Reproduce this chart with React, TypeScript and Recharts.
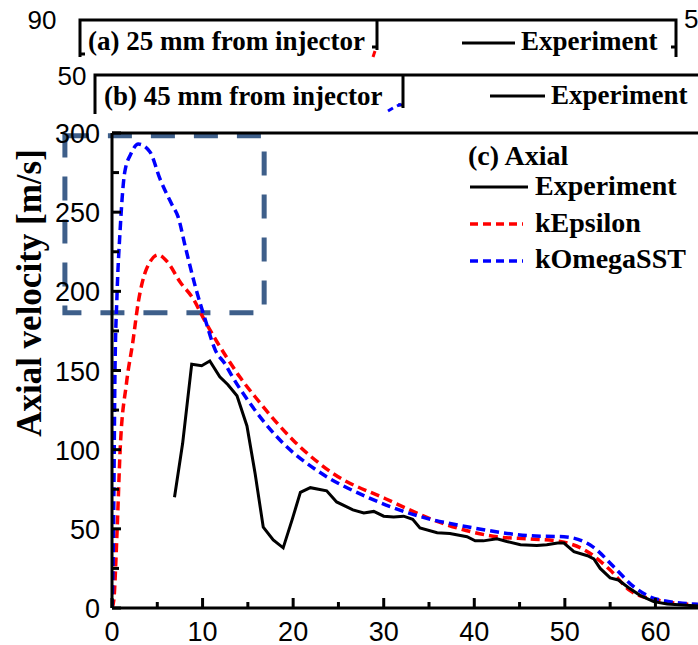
import React from 'react';
import { LineChart, Line, XAxis, YAxis, ReferenceLine, ReferenceArea } from 'recharts';

// Axial distance [mm] and axial velocity [m/s]
const expX = [6.9, 7.8, 8.8, 9.9, 10.8, 11.9, 12.8, 13.8, 14.9, 15.8, 16.7, 17.8, 18.9, 19.9, 20.8, 21.9, 23.7, 24.8, 26.6, 27.8, 28.9, 30, 31.1, 32.2, 33.2, 34, 35.9, 37.3, 39.2, 40.1, 41, 42.5, 43.6, 45.1, 46.9, 48, 49.2, 49.9, 51, 52.5, 53.2, 53.9, 55, 55.9, 57, 58.3, 59.8, 61.3, 64.7];
const expY = [70, 104, 154, 153, 156, 146, 141, 134, 115, 85, 51, 43, 38, 56, 73, 76, 74, 67, 62, 60, 61, 58, 57.5, 58, 56, 50.6, 47.5, 47, 45, 42.4, 42.4, 43.7, 42, 40, 39.4, 40, 41, 41, 35.6, 33, 31, 25, 19, 17.7, 13, 8, 4, 2.5, 1.3];

const keX = [0, 0.2, 0.55, 0.9, 1.6, 2.3, 2.9, 3.8, 5.1, 6.2, 7.5, 9, 10, 11.6, 12.7, 14.1, 16, 20, 24.4, 30.2, 37, 42.5, 46.2, 49.5, 52.5, 55, 57.2, 60.2, 64.7];
const keY = [0, 5, 47, 100, 142, 168, 193, 214, 223, 218, 206, 195, 184, 168, 158, 146, 132, 106, 85, 69, 52.5, 45, 43.6, 42, 35.6, 24, 11, 5, 2];

const kwX = [0, 0.15, 0.33, 0.55, 0.9, 1.4, 2.1, 2.9, 4.2, 5.3, 6.6, 7.3, 8.1, 9.2, 10.3, 11.4, 12.5, 13.3, 14.9, 18.9, 22.6, 28.2, 33.3, 39.9, 46.2, 49.9, 53.1, 55.4, 57.6, 60.2, 64.7];
const kwY = [0, 40, 150, 197, 239, 275, 287, 293, 288, 271, 255, 247, 228, 203, 182, 163, 154, 146, 132, 104, 87, 70, 59, 50.6, 45.6, 45, 38.6, 26, 13.5, 5.5, 2.3];

const xTicks = [0, 5, 10, 15, 20, 25, 30, 35, 40, 45, 50, 55, 60];
const yTicks = [0, 25, 50, 75, 100, 125, 150, 175, 200, 225, 250, 275, 300];

const seriesNames = ['Experiment', 'kEpsilon', 'kOmegaSST'];
const seriesColors = ['#000000', '#ff0000', '#0000ff'];

const toPts = (xs: number[], ys: number[]) => xs.map((x, i) => ({ x, y: ys[i] }));
const expData = toPts(expX, expY);
const keData = toPts(keX, keY);
const kwData = toPts(kwX, kwY);

const SANS = '"Liberation Sans", Arial, sans-serif';
const SERIF = '"Liberation Serif", "Times New Roman", serif';

const XTick = (props: any) => {
  const { x, y, payload } = props;
  const major = payload.value % 10 === 0;
  return (
    <g>
      <line x1={x} y1={y} x2={x} y2={y - (major ? 10 : 6)} stroke="#000" strokeWidth={3} />
      {major && (
        <text x={x} y={y + 33} textAnchor="middle" fontFamily={SANS} fontSize={27} fill="#000">
          {payload.value}
        </text>
      )}
    </g>
  );
};

const YTick = (props: any) => {
  const { x, y, payload } = props;
  const major = payload.value % 50 === 0;
  return (
    <g>
      <line x1={x} y1={y} x2={x + (major ? 9 : 7)} y2={y} stroke="#000" strokeWidth={3} />
      {major && (
        <text x={x - 12} y={y + 10} textAnchor="end" fontFamily={SANS} fontSize={27} fill="#000">
          {payload.value}
        </text>
      )}
    </g>
  );
};

export default function App() {
  return (
    <div style={{ position: 'absolute', left: 0, top: 0, width: 698, height: 645, background: '#fff', overflow: 'hidden' }}>
      <LineChart width={698} height={645} data={expData} margin={{ top: 133, right: 0, left: 0, bottom: 0 }}>
        <XAxis
          dataKey="x"
          type="number"
          domain={[0, 64.7]}
          allowDataOverflow
          ticks={xTicks}
          interval={0}
          tick={<XTick />}
          tickLine={false}
          tickSize={0}
          tickMargin={0}
          height={37}
          axisLine={{ stroke: '#000', strokeWidth: 3 }}
        />
        <YAxis
          type="number"
          domain={[0, 300]}
          allowDataOverflow
          ticks={yTicks}
          interval={0}
          tick={<YTick />}
          tickLine={false}
          tickSize={0}
          tickMargin={0}
          width={112}
          axisLine={{ stroke: '#000', strokeWidth: 3 }}
        />
        <ReferenceLine y={300} stroke="#000" strokeWidth={3} />
        <Line data={keData} dataKey="y" type="monotone" stroke={seriesColors[1]} strokeWidth={3.5} strokeDasharray="9 5" dot={false} isAnimationActive={false} name={seriesNames[1]} />
        <Line data={kwData} dataKey="y" type="monotone" stroke={seriesColors[2]} strokeWidth={3.5} strokeDasharray="9 5" dot={false} isAnimationActive={false} name={seriesNames[2]} />
        <Line data={expData} dataKey="y" type="linear" stroke={seriesColors[0]} strokeWidth={3} dot={false} isAnimationActive={false} name={seriesNames[0]} />
        <ReferenceArea x1={-5.2} x2={16.8} y1={186.4} y2={298.2} ifOverflow="visible" fill="none" stroke="#3e5f8a" strokeWidth={5} strokeDasharray="24 19" />
      </LineChart>
      <svg width={698} height={645} style={{ position: 'absolute', left: 0, top: 0, pointerEvents: 'none' }}>
        {/* panel (a) fragment */}
        <text x={42} y={29} textAnchor="middle" fontFamily={SANS} fontSize={26}>90</text>
        <path d="M80,57 V20 H676 V57" fill="none" stroke="#000" strokeWidth={3} />
        <path d="M377,20 V50 M372,47 H377" fill="none" stroke="#000" strokeWidth={3} />
        <path d="M671,47 H676 M80,54 H85" fill="none" stroke="#000" strokeWidth={3} />
        <path d="M375,51 L373,57" stroke="#ff0000" strokeWidth={3} />
        <text x={88} y={50} fontFamily={SERIF} fontWeight="bold" fontSize={27}>(a) 25 mm from injector</text>
        <line x1={462} y1={43} x2={515} y2={43} stroke="#000" strokeWidth={3} />
        <text x={521} y={50} fontFamily={SERIF} fontWeight="bold" fontSize={27}>Experiment</text>
        <text x={684} y={28} fontFamily={SANS} fontSize={26}>5</text>
        <rect x={0} y={58} width={698} height={60} fill="#fff" />
        {/* panel (b) fragment */}
        <text x={72} y={85} textAnchor="middle" fontFamily={SANS} fontSize={26}>50</text>
        <path d="M95,114 V75 H698" fill="none" stroke="#000" strokeWidth={3} />
        <path d="M403,75 V108 M398,105 H403" fill="none" stroke="#000" strokeWidth={3} />
        <path d="M388,111 L393,108 M397,106 L401,104" stroke="#0000ff" strokeWidth={3} />
        <text x={104} y={105} fontFamily={SERIF} fontWeight="bold" fontSize={27}>(b) 45 mm from injector</text>
        <line x1={490} y1={96} x2={545} y2={96} stroke="#000" strokeWidth={3} />
        <text x={551} y={104} fontFamily={SERIF} fontWeight="bold" fontSize={27}>Experiment</text>
        {/* y-axis title */}
        <text transform="translate(41,293) rotate(-90)" textAnchor="middle" fontFamily={SERIF} fontWeight="bold" fontSize={35}>Axial velocity [m/s]</text>
        {/* legend (c) */}
        <text x={468} y={165} fontFamily={SERIF} fontWeight="bold" fontSize={28}>(c) Axial</text>
        <line x1={470} y1={187} x2={528} y2={187} stroke={seriesColors[0]} strokeWidth={3} />
        <text x={535} y={195} fontFamily={SERIF} fontWeight="bold" fontSize={28}>{seriesNames[0]}</text>
        <line x1={470} y1={224} x2={523} y2={224} stroke={seriesColors[1]} strokeWidth={3.5} strokeDasharray="8 5" />
        <text x={535} y={232} fontFamily={SERIF} fontWeight="bold" fontSize={28}>{seriesNames[1]}</text>
        <line x1={470} y1={261} x2={523} y2={261} stroke={seriesColors[2]} strokeWidth={3.5} strokeDasharray="8 5" />
        <text x={535} y={268} fontFamily={SERIF} fontWeight="bold" fontSize={28}>{seriesNames[2]}</text>
      </svg>
    </div>
  );
}
